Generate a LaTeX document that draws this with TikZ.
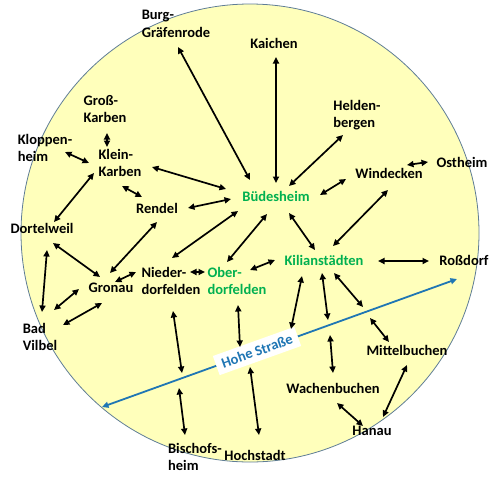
\documentclass[tikz,border=0pt]{standalone}
\usepackage{fontspec}
\setmainfont{Carlito}
\usetikzlibrary{arrows.meta}
\definecolor{disc}{RGB}{255,255,187}
\definecolor{discedge}{RGB}{95,125,150}
\definecolor{tgreen}{RGB}{0,176,80}
\definecolor{hblue}{RGB}{31,118,180}
\begin{document}
\begin{tikzpicture}[x=1pt,y=-1pt,
  place/.style={font=\fontsize{14.5}{17.5}\selectfont\bfseries, inner sep=0pt, align=left},
  hub/.style={place, text=tgreen},
  dbl/.style={line width=1.7pt, {Triangle[length=6.5pt,width=6pt]}-{Triangle[length=6.5pt,width=6pt]}},
  hsline/.style={hblue, line width=1.8pt, {Triangle[length=6.5pt,width=6pt]}-{Triangle[length=6.5pt,width=6pt]}},
  hsbox/.style={fill=white, text=hblue, font=\fontsize{14.5}{17.5}\selectfont\bfseries, inner xsep=6pt, inner ysep=5pt}
]
\useasboundingbox (0,0) rectangle (500,485);
\fill[disc, draw=discedge, line width=0.8pt] (250,233) circle[radius=229];

% places
\node[place] (bg)  at (176,24)  {Burg-\\Gräfenrode};
\node[place] (kai) at (274,43)  {Kaichen};
\node[place] (gk)  at (105,109) {Groß-\\Karben};
\node[place] (klo) at (45,148)  {Kloppen-\\heim};
\node[place] (kk)  at (120,163) {Klein-\\Karben};
\node[place] (ren) at (157,208) {Rendel};
\node[place] (dor) at (42,228)  {Dortelweil};
\node[hub]   (bue) at (276,196) {Büdesheim};
\node[place] (hel) at (357,115) {Helden-\\bergen};
\node[place] (win) at (389,173) {Windecken};
\node[place] (ost) at (462,162) {Ostheim};
\node[hub]   (kil) at (324,260) {Kilianstädten};
\node[place] (ros) at (464,260) {Roßdorf};
\node[place] (nd)  at (171,281) {Nieder-\\dorfelden};
\node[hub]   (od)  at (237,281) {Ober-\\dorfelden};
\node[place] (gro) at (111,288) {Gronau};
\node[place] (bv)  at (40,337)  {Bad\\Vilbel};
\node[place] (mit) at (407,350) {Mittelbuchen};
\node[place] (wac) at (333,388) {Wachenbuchen};
\node[place] (han) at (372,431) {Hanau};
\node[place] (hoc) at (255,455) {Hochstadt};
\node[place] (bis) at (195,457) {Bischofs-\\heim};

% Hohe Strasse
\coordinate (hl) at (102,407);
\coordinate (hr) at (457,279);
\draw[hsline] (hl) -- (hr);
\node[hsbox, rotate=19.7] (hs) at (257,351) {Hohe Straße};

% free ends at the Hohe Strasse
\coordinate (ha) at (291,329);
\coordinate (hb) at (328,320);
\coordinate (hc) at (363,307);
\coordinate (hd) at (370,318);
\coordinate (he) at (330,335);
\coordinate (hf) at (250,367);
\coordinate (hg) at (240,347);
\coordinate (hh) at (182,373);
\coordinate (hi) at (179,388);

% connectors
\draw[dbl] ([shift={(2,23)}]bg.center) -- ([shift={(-26,-16)}]bue.center);
\draw[dbl] ([shift={(2,14)}]kai.center) -- ([shift={(0,-13)}]bue.center);
\draw[dbl] ([shift={(-14,20)}]hel.center) -- ([shift={(13,-10)}]bue.center);
\draw[dbl] ([shift={(-43,6)}]win.center) -- ([shift={(44,-1)}]bue.center);
\draw[dbl] ([shift={(-34,0)}]ost.center) -- ([shift={(18,-8)}]win.center);
\draw[dbl] ([shift={(-1,17)}]win.center) -- ([shift={(9,-14)}]kil.center);
\draw[dbl] ([shift={(32,4)}]kk.center) -- ([shift={(-50,-7)}]bue.center);
\draw[dbl] ([shift={(2,24)}]gk.center) -- ([shift={(-13,-16)}]kk.center);
\draw[dbl] ([shift={(20,4)}]klo.center) -- ([shift={(-31,0)}]kk.center);
\draw[dbl] ([shift={(2,23)}]kk.center) -- ([shift={(-15,-11)}]ren.center);
\draw[dbl] ([shift={(-26,10)}]kk.center) -- ([shift={(12,-6)}]dor.center);
\draw[dbl] ([shift={(31,0)}]ren.center) -- ([shift={(-45,3)}]bue.center);
\draw[dbl] ([shift={(0,14)}]ren.center) -- ([shift={(-1,-15)}]gro.center);
\draw[dbl] ([shift={(11,15)}]dor.center) -- ([shift={(-11,-11)}]gro.center);
\draw[dbl] ([shift={(5,22)}]dor.center) -- ([shift={(2,-25)}]bv.center);
\draw[dbl] ([shift={(-32,1)}]gro.center) -- ([shift={(14,-27)}]bv.center);
\draw[dbl] ([shift={(-9,15)}]gro.center) -- ([shift={(23,-12)}]bv.center);
\draw[dbl] ([shift={(4,-6)}]gro.center) -- ([shift={(-35,-9)}]nd.center);
\draw[dbl] ([shift={(19,-9)}]nd.center) -- ([shift={(-32,-9)}]od.center);
\draw[dbl] ([shift={(13,-11)}]od.center) -- ([shift={(-49,0)}]kil.center);
\draw[dbl] ([shift={(1,-23)}]nd.center) -- ([shift={(-38,15)}]bue.center);
\draw[dbl] ([shift={(-10,-19)}]od.center) -- ([shift={(-9,18)}]bue.center);
\draw[dbl] ([shift={(13,17)}]bue.center) -- ([shift={(-9,-10)}]kil.center);
\draw[dbl] ([shift={(54,1)}]kil.center) -- ([shift={(-35,1)}]ros.center);
\draw[dbl] ([shift={(-22,16)}]kil.center) -- (ha);
\draw[dbl] ([shift={(-2,13)}]kil.center) -- (hb);
\draw[dbl] ([shift={(10,13)}]kil.center) -- (hc);
\draw[dbl] (hd) -- ([shift={(-18,-8)}]mit.center);
\draw[dbl] (he) -- ([shift={(0,-15)}]wac.center);
\draw[dbl] ([shift={(0,15)}]mit.center) -- ([shift={(11,-14)}]han.center);
\draw[dbl] ([shift={(4,15)}]wac.center) -- ([shift={(-9,-5)}]han.center);
\draw[dbl] (hf) -- ([shift={(4,-20)}]hoc.center);
\draw[dbl] ([shift={(1,24)}]od.center) -- (hg);
\draw[dbl] ([shift={(2,30)}]nd.center) -- (hh);
\draw[dbl] (hi) -- ([shift={(-10,-22)}]bis.center);
\end{tikzpicture}
\end{document}
